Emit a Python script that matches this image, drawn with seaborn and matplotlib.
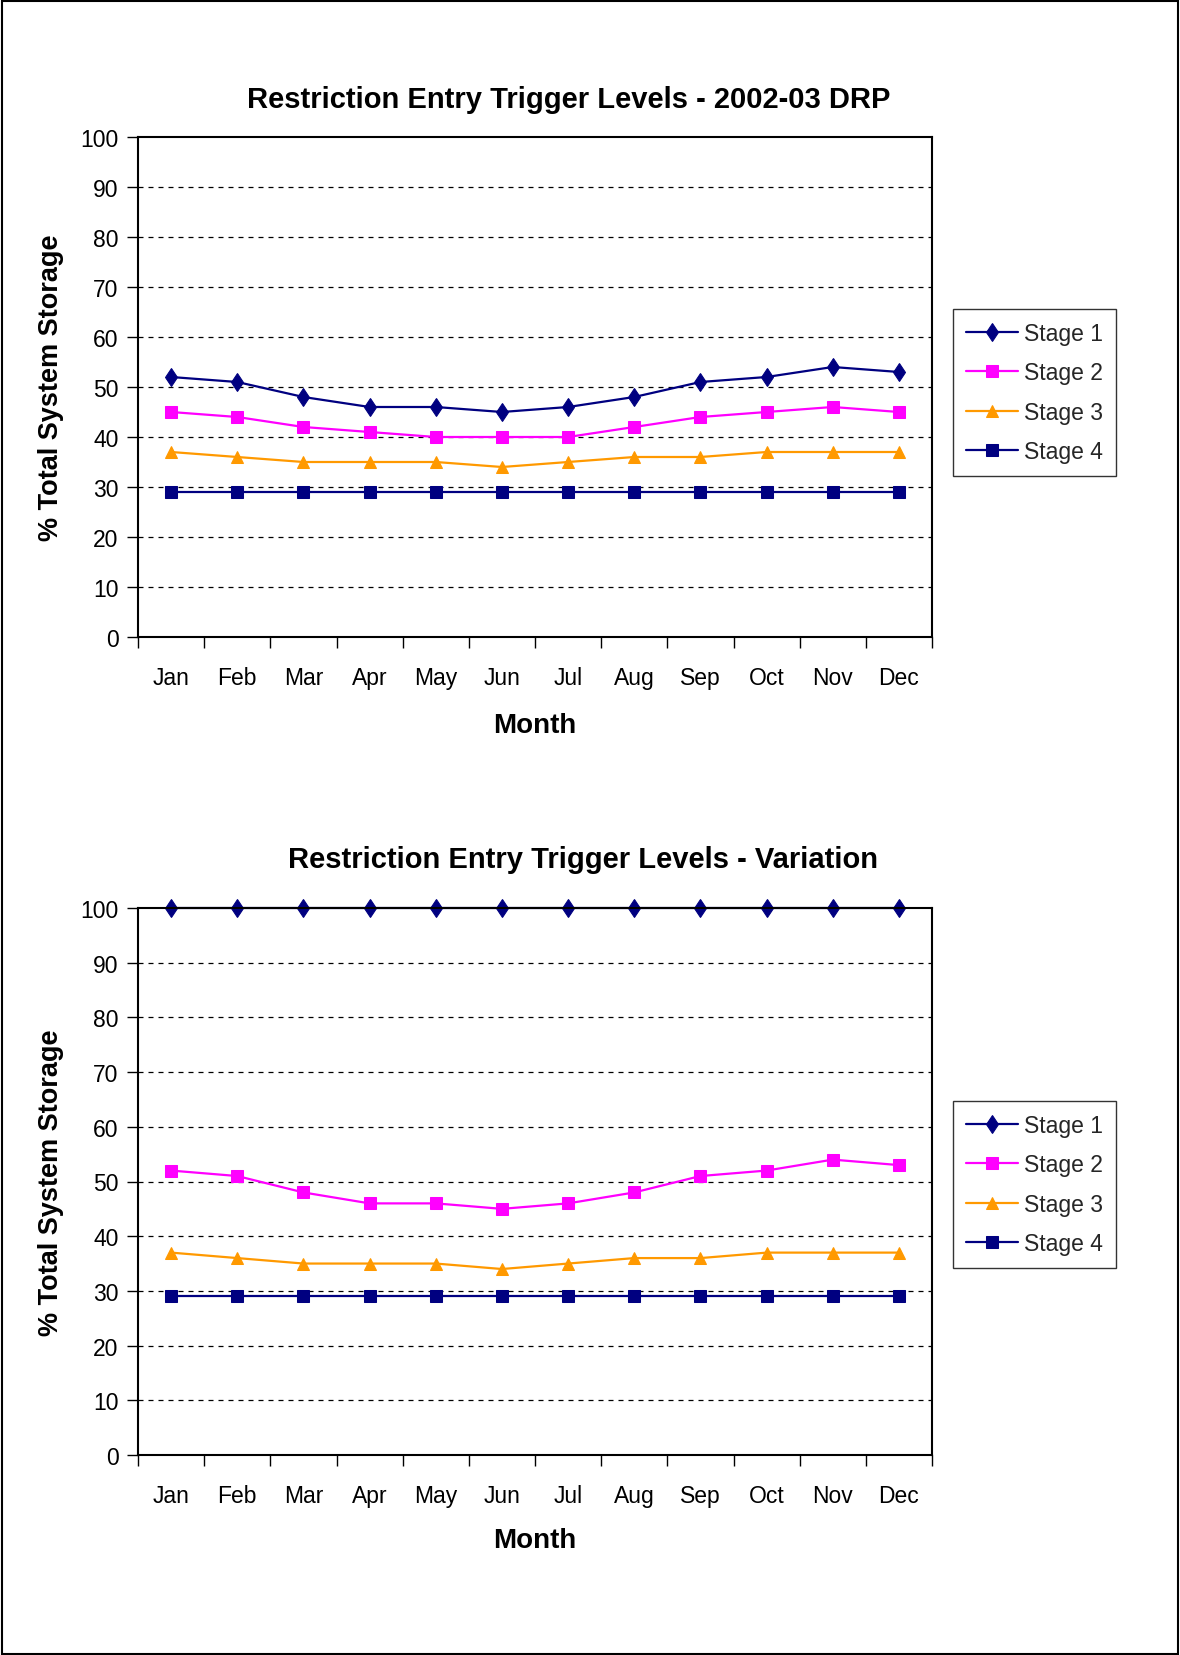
import matplotlib
matplotlib.use("Agg")
import matplotlib.pyplot as plt
import seaborn as sns
import pandas as pd
from matplotlib.patches import Rectangle

months = ["Jan", "Feb", "Mar", "Apr", "May", "Jun", "Jul", "Aug", "Sep", "Oct", "Nov", "Dec"]

# Chart 1: 2002-03 DRP
drp_stage1 = [52, 51, 48, 46, 46, 45, 46, 48, 51, 52, 54, 53]
drp_stage2 = [45, 44, 42, 41, 40, 40, 40, 42, 44, 45, 46, 45]
drp_stage3 = [37, 36, 35, 35, 35, 34, 35, 36, 36, 37, 37, 37]
drp_stage4 = [29, 29, 29, 29, 29, 29, 29, 29, 29, 29, 29, 29]

# Chart 2: Variation
var_stage1 = [100, 100, 100, 100, 100, 100, 100, 100, 100, 100, 100, 100]
var_stage2 = [52, 51, 48, 46, 46, 45, 46, 48, 51, 52, 54, 53]
var_stage3 = [37, 36, 35, 35, 35, 34, 35, 36, 36, 37, 37, 37]
var_stage4 = [29, 29, 29, 29, 29, 29, 29, 29, 29, 29, 29, 29]

stage_names = ["Stage 1", "Stage 2", "Stage 3", "Stage 4"]
title1 = "Restriction Entry Trigger Levels - 2002-03 DRP"
title2 = "Restriction Entry Trigger Levels - Variation"

sns.set_theme(style="white")
plt.rcParams["font.family"] = ["Liberation Sans", "DejaVu Sans"]

styles = [
    dict(color="#000080", marker="d", markersize=9.5),
    dict(color="#FF00FF", marker="s", markersize=8),
    dict(color="#FF9900", marker="^", markersize=8.5),
    dict(color="#000080", marker="s", markersize=8),
]

W, H = 1180, 1656
fig = plt.figure(figsize=(W / 100, H / 100), dpi=100)
fig.patches.append(Rectangle((2 / W, 1 / H), 1 - 4 / W, 1 - 3 / H, transform=fig.transFigure,
                             fill=False, edgecolor="black", linewidth=1.5))


def draw(ax_rect, series, title, title_x, title_y, legend_top, month_y):
    ax = fig.add_axes(ax_rect)
    x = list(range(len(months)))
    for name, vals, st in zip(stage_names, series, styles):
        df = pd.DataFrame({"x": x, "v": vals})
        sns.lineplot(data=df, x="x", y="v", ax=ax, color=st["color"], marker=st["marker"],
                     markersize=st["markersize"], markeredgecolor=st["color"],
                     linewidth=1.6, label=name, clip_on=False)
    ax.set_xlim(-0.5, len(months) - 0.5)
    ax.set_ylim(0, 100)
    ax.set_yticks(range(0, 101, 10))
    ax.set_xticks([i - 0.5 for i in range(len(months) + 1)], minor=False)
    ax.set_xticklabels([])
    ax.set_xticks(x, minor=True)
    ax.set_xticklabels(months, minor=True)
    ax.tick_params(axis="x", which="major", direction="out", length=8, width=1, color="black", bottom=True)
    ax.tick_params(axis="x", which="minor", length=0, pad=21, labelsize=16.5, colors="black")
    ax.tick_params(axis="y", direction="out", length=8, width=1, color="black", left=True,
                   labelsize=16.5, labelcolor="black", pad=6)
    for yv in range(10, 100, 10):
        ax.axhline(yv, color="black", linestyle=(0, (4, 4)), linewidth=0.9, zorder=0)
    for sp in ax.spines.values():
        sp.set_visible(True)
        sp.set_color("black")
        sp.set_linewidth(1.5)
    ax.set_xlabel("")
    ax.set_ylabel("% Total System Storage", fontsize=19.5, fontweight="bold", color="black", labelpad=12)
    fig.text(title_x, title_y, title, ha="center", va="center",
             fontsize=21, fontweight="bold", color="black")
    fig.text(ax_rect[0] + ax_rect[2] / 2, month_y, "Month", ha="center", va="center",
             fontsize=20, fontweight="bold", color="black")
    ax.get_legend().remove()
    handles, labels = ax.get_legend_handles_labels()
    leg = fig.legend(handles, labels, loc="upper left", bbox_to_anchor=(953 / W, legend_top),
                     bbox_transform=fig.transFigure, borderaxespad=0, frameon=True, fancybox=False,
                     edgecolor="black", fontsize=16.5, handlelength=2.3, handletextpad=0.25,
                     labelspacing=0.72, borderpad=0.55)
    leg.get_frame().set_linewidth(1.0)
    return ax


ax1 = draw([138 / W, 1 - 638 / H, 794 / W, 500 / H],
           [drp_stage1, drp_stage2, drp_stage3, drp_stage4], title1,
           569 / W, 1 - 100 / H, 1 - 310 / H, 1 - 726 / H)
ax2 = draw([138 / W, 1 - 1456 / H, 794 / W, 547 / H],
           [var_stage1, var_stage2, var_stage3, var_stage4], title2,
           583 / W, 1 - 860 / H, 1 - 1102 / H, 1 - 1541 / H)

fig.savefig("out.png", dpi=100)
